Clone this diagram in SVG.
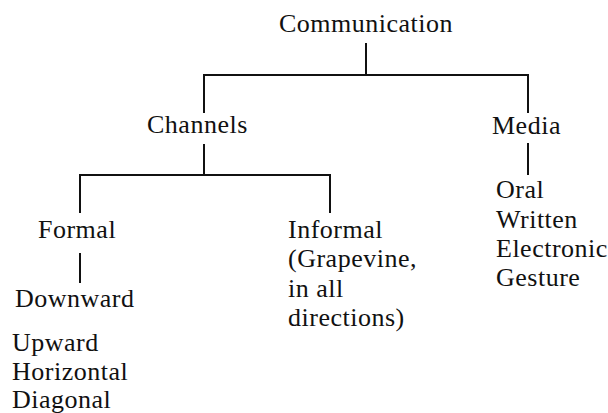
<svg xmlns="http://www.w3.org/2000/svg" width="608" height="413" viewBox="0 0 608 413">
  <style>
    .lbl { font-family: "Liberation Serif", "Times New Roman", serif; font-size: 26px; letter-spacing: 0.5px; fill: #111; }
    .wire { stroke: #111; stroke-width: 2; fill: none; stroke-linecap: butt; }
  </style>
  <rect width="608" height="413" fill="#fff"/>

  <g id="connectors">
    <path class="wire" d="M366 43 V75"/>
    <path class="wire" d="M204 113 V75 H528 V113"/>
    <path class="wire" d="M204 144 V175"/>
    <path class="wire" d="M80 213 V175 H330 V213"/>
    <path class="wire" d="M80 253 V283"/>
    <path class="wire" d="M528 143 V175"/>
  </g>

  <g id="communication">
    <text class="lbl" x="279" y="32">Communication</text>
  </g>
  <g id="channels">
    <text class="lbl" x="147" y="133">Channels</text>
  </g>
  <g id="media">
    <text class="lbl" x="492" y="134">Media</text>
  </g>
  <g id="formal">
    <text class="lbl" x="38" y="238">Formal</text>
  </g>
  <g id="informal">
    <text class="lbl" x="288" y="238">Informal</text>
    <text class="lbl" x="288" y="267">(Grapevine,</text>
    <text class="lbl" x="288" y="297">in all</text>
    <text class="lbl" x="288" y="326">directions)</text>
  </g>
  <g id="downward">
    <text class="lbl" x="15" y="307">Downward</text>
  </g>
  <g id="formal-other">
    <text class="lbl" x="12" y="351">Upward</text>
    <text class="lbl" x="12" y="380">Horizontal</text>
    <text class="lbl" x="12" y="408">Diagonal</text>
  </g>
  <g id="media-list">
    <text class="lbl" x="496" y="198">Oral</text>
    <text class="lbl" x="496" y="228">Written</text>
    <text class="lbl" x="496" y="257">Electronic</text>
    <text class="lbl" x="496" y="286">Gesture</text>
  </g>
</svg>
